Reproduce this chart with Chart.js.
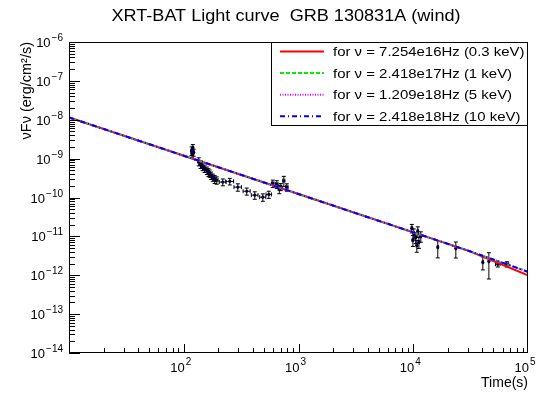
<!DOCTYPE html>
<html>
<head>
<meta charset="utf-8">
<title>XRT-BAT Light curve GRB 130831A (wind)</title>
<script src="https://cdn.jsdelivr.net/npm/chart.js@4.4.1/dist/chart.umd.min.js"></script>
<style>
  html, body { margin: 0; padding: 0; background: #fff; }
  #wrap { width: 545px; height: 396px; }
</style>
</head>
<body>
<div id="wrap"><canvas id="chart" width="545" height="396"></canvas></div>
<script>
// observed points: time (s), nuFnu (erg/cm2/s), symmetric errors
const obsTime = [117, 118, 120, 122, 135, 140, 146, 152, 159, 164, 168, 173, 179, 186, 194,
  219, 252, 296, 354, 416, 489, 551, 597, 647, 680, 701, 745, 791,
  9730, 9930, 10100, 10500, 10740, 10960, 11200, 11640, 16370, 23500, 40400, 45600, 54600, 65400];
const obsFlux = [1.6e-9, 1.35e-9, 1.9e-9, 1.45e-9, 8.5e-10, 7.2e-10, 6.3e-10, 5.6e-10, 5.0e-10, 4.5e-10, 4.2e-10, 3.7e-10, 3.3e-10, 3.0e-10, 2.8e-10,
  2.5e-10, 2.6e-10, 1.85e-10, 1.45e-10, 1.15e-10, 1.02e-10, 1.2e-10, 2.3e-10, 2.2e-10, 1.65e-10, 1.9e-10, 2.7e-10, 1.85e-10,
  1.63e-11, 8.0e-12, 1.21e-11, 9.5e-12, 5.9e-12, 1.36e-11, 7.1e-12, 1.01e-11, 5.3e-12, 4.97e-12, 2.17e-12, 2.3e-12, 1.93e-12, 1.93e-12];
const obsTimeErr = [2, 2, 2, 2, 3, 3, 3, 3, 3, 3, 3, 4, 4, 4, 5,
  15, 20, 22, 25, 28, 30, 30, 15, 15, 15, 15, 15, 20,
  150, 150, 150, 150, 150, 150, 150, 150, 200, 250, 400, 400, 2500, 2500];
const obsFluxErr = [4e-10, 3e-10, 4e-10, 3e-10, 2e-10, 1.6e-10, 1.4e-10, 1.2e-10, 1.1e-10, 1e-10, 9e-11, 8e-11, 7e-11, 7e-11, 6e-11,
  5e-11, 5e-11, 4e-11, 3e-11, 2.5e-11, 2.2e-11, 2.5e-11, 5e-11, 5e-11, 4e-11, 4e-11, 8e-11, 4e-11,
  4e-12, 2.5e-12, 3.5e-12, 3e-12, 2e-12, 4e-12, 2.2e-12, 3e-12, 2.5e-12, 2.2e-12, 8e-13, 1.5e-12, 3e-13, 3e-13];

// model curves for the four frequencies
const modelTime = [10, 100, 1000, 10000, 30000, 100000];
const model03keV = [1.15e-8, 1.19e-9, 1.23e-10, 1.27e-11, 4.3e-12, 1.0e-12];
const model1keV = [1.15e-8, 1.19e-9, 1.23e-10, 1.27e-11, 4.3e-12, 1.23e-12];
const model5keV = [1.15e-8, 1.19e-9, 1.23e-10, 1.27e-11, 4.3e-12, 1.23e-12];
const model10keV = [1.15e-8, 1.19e-9, 1.23e-10, 1.27e-11, 4.3e-12, 1.23e-12];

const legendLabels = [
  'for ν = 7.254e16Hz (0.3 keV)',
  'for ν = 2.418e17Hz (1 keV)',
  'for ν = 1.209e18Hz (5 keV)',
  'for ν = 2.418e18Hz (10 keV)'
];
const xTickExps = [2, 3, 4, 5];
const yTickExps = [-14, -13, -12, -11, -10, -9, -8, -7, -6];
const chartTitle = 'XRT-BAT Light curve  GRB 130831A (wind)';
const xTitle = 'Time(s)';
const yTitle = 'νFν (erg/cm²/s)';

const FONT = "'Liberation Sans', Arial, Helvetica, sans-serif";

function pts(xs, ys){ return xs.map((x, i) => ({ x: x, y: ys[i] })); }

function stretchText(ctx, text, x, y, size, align, sx){
  ctx.save();
  ctx.font = size + 'px ' + FONT;
  ctx.textAlign = align;
  ctx.textBaseline = 'alphabetic';
  ctx.translate(x, y);
  ctx.scale(sx, 1);
  ctx.fillText(text, 0, 0);
  ctx.restore();
}

function expText(e){ return (e < 0 ? '\u2212' : '') + Math.abs(e); }

// ROOT-like frame, inward ticks, labels, titles and boxed legend
const rootDecor = {
  id: 'rootDecor',
  beforeDatasetDraw(chart, args){
    if (args.index !== 0) return;
    const { ctx, scales: { x, y } } = chart;
    ctx.save();
    ctx.strokeStyle = '#000';
    ctx.lineWidth = 1;
    ctx.beginPath();
    obsTime.forEach((t, i) => {
      const f = obsFlux[i];
      const px = x.getPixelForValue(t), py = y.getPixelForValue(f);
      const xl = x.getPixelForValue(t - obsTimeErr[i]), xr = x.getPixelForValue(t + obsTimeErr[i]);
      const yt = y.getPixelForValue(f + obsFluxErr[i]);
      const yb = y.getPixelForValue(Math.max(f - obsFluxErr[i], f * 0.05));
      ctx.moveTo(xl, py); ctx.lineTo(xr, py);
      ctx.moveTo(px, yt); ctx.lineTo(px, yb);
      ctx.moveTo(xl, py - 2); ctx.lineTo(xl, py + 2);
      ctx.moveTo(xr, py - 2); ctx.lineTo(xr, py + 2);
      ctx.moveTo(px - 2, yt); ctx.lineTo(px + 2, yt);
      ctx.moveTo(px - 2, yb); ctx.lineTo(px + 2, yb);
    });
    ctx.stroke();
    ctx.restore();
  },
  afterDraw(chart){
    const { ctx, chartArea: a, scales: { x, y } } = chart;
    ctx.save();
    ctx.fillStyle = '#000';
    ctx.strokeStyle = '#000';
    ctx.lineWidth = 1;

    // frame
    ctx.strokeRect(a.left + 0.5, a.top + 0.5, a.right - a.left - 1, a.bottom - a.top - 1);

    // x ticks
    ctx.beginPath();
    for (let e = 1; e <= 4; e++) {
      for (let m = 1; m <= 9; m++) {
        const v = m * Math.pow(10, e);
        if (v <= 10) continue;
        const px = Math.round(x.getPixelForValue(v)) + 0.5;
        const len = m === 1 ? 9 : 5;
        ctx.moveTo(px, a.bottom); ctx.lineTo(px, a.bottom - len);
      }
    }
    // y ticks
    for (let e = -14; e <= -7; e++) {
      for (let m = 1; m <= 9; m++) {
        const v = m * Math.pow(10, e);
        const py = Math.round(y.getPixelForValue(v)) + 0.5;
        const len = m === 1 ? 11 : 6;
        ctx.moveTo(a.left, py); ctx.lineTo(a.left + len, py);
      }
    }
    ctx.stroke();

    // x tick labels
    xTickExps.forEach(e => {
      const px = x.getPixelForValue(Math.pow(10, e)) - 3;
      ctx.font = '13px ' + FONT;
      const wb = ctx.measureText('10').width;
      ctx.font = '10px ' + FONT;
      const we = ctx.measureText(expText(e)).width;
      const x0 = px - (wb + 1 + we) / 2;
      ctx.textAlign = 'left';
      ctx.font = '13px ' + FONT;
      ctx.fillText('10', x0, 372);
      ctx.font = '10px ' + FONT;
      ctx.fillText(expText(e), x0 + wb + 1, 365);
    });

    // y tick labels
    yTickExps.forEach(e => {
      const py = y.getPixelForValue(Math.pow(10, e));
      ctx.font = '10px ' + FONT;
      const we = ctx.measureText(expText(e)).width;
      ctx.textAlign = 'left';
      ctx.fillText(expText(e), 63 - we, py - 1);
      ctx.font = '13px ' + FONT;
      ctx.textAlign = 'right';
      ctx.fillText('10', 63 - we - 1, py + 5);
    });

    // titles
    stretchText(ctx, chartTitle, 286, 21, 16, 'center', 1.13);
    ctx.font = '14px ' + FONT;
    ctx.textAlign = 'right';
    ctx.fillText(xTitle, a.right, 387);
    ctx.save();
    ctx.translate(31, a.top);
    ctx.rotate(-Math.PI / 2);
    ctx.font = '14.5px ' + FONT;
    ctx.textAlign = 'right';
    ctx.fillText(yTitle, 0, 0);
    ctx.restore();

    // legend box
    const lx = 271, ly = a.top, lw = a.right - 271, lh = 84;
    ctx.fillStyle = '#fff';
    ctx.fillRect(lx, ly, lw, lh);
    ctx.strokeStyle = '#000';
    ctx.strokeRect(lx + 0.5, ly + 0.5, lw - 1, lh - 1);
    ctx.fillStyle = '#000';
    legendLabels.forEach((lab, i) => {
      const ds = chart.data.datasets[i + 1];
      const cy = 51.5 + i * 21.6;
      ctx.save();
      ctx.strokeStyle = ds.borderColor;
      ctx.lineWidth = ds.borderWidth;
      ctx.setLineDash(ds.borderDash || []);
      ctx.beginPath();
      ctx.moveTo(280, cy); ctx.lineTo(324, cy);
      ctx.stroke();
      ctx.restore();
      stretchText(ctx, lab, 333, cy + 4.7, 13, 'left', 1.15);
    });
    ctx.restore();
  }
};

const chart = new Chart(document.getElementById('chart').getContext('2d'), {
  type: 'scatter',
  data: {
    datasets: [
      { label: 'XRT-BAT', data: pts(obsTime, obsFlux), pointRadius: 1.6, pointBorderWidth: 0,
        pointBackgroundColor: '#000044', order: 5 },
      { label: legendLabels[0], data: pts(modelTime, model03keV), showLine: true, pointRadius: 0,
        borderColor: '#ff0000', borderWidth: 2, order: 4 },
      { label: legendLabels[1], data: pts(modelTime, model1keV), showLine: true, pointRadius: 0,
        borderColor: '#00ee00', borderWidth: 2, borderDash: [4, 2], order: 3 },
      { label: legendLabels[2], data: pts(modelTime, model5keV), showLine: true, pointRadius: 0,
        borderColor: '#dd00ff', borderWidth: 2, borderDash: [1, 1.5], order: 2 },
      { label: legendLabels[3], data: pts(modelTime, model10keV), showLine: true, pointRadius: 0,
        borderColor: '#0000ff', borderWidth: 2, borderDash: [5, 3, 1, 3], order: 1 }
    ]
  },
  options: {
    responsive: false, animation: false, devicePixelRatio: 1,
    layout: { padding: { left: 69, top: 42, right: 17, bottom: 43 } },
    scales: {
      x: { type: 'logarithmic', min: 10, max: 1e5, display: false },
      y: { type: 'logarithmic', min: 1e-14, max: 1e-6, display: false }
    },
    plugins: { legend: { display: false }, tooltip: { enabled: false }, title: { display: false } }
  },
  plugins: [rootDecor]
});
</script>
</body>
</html>
